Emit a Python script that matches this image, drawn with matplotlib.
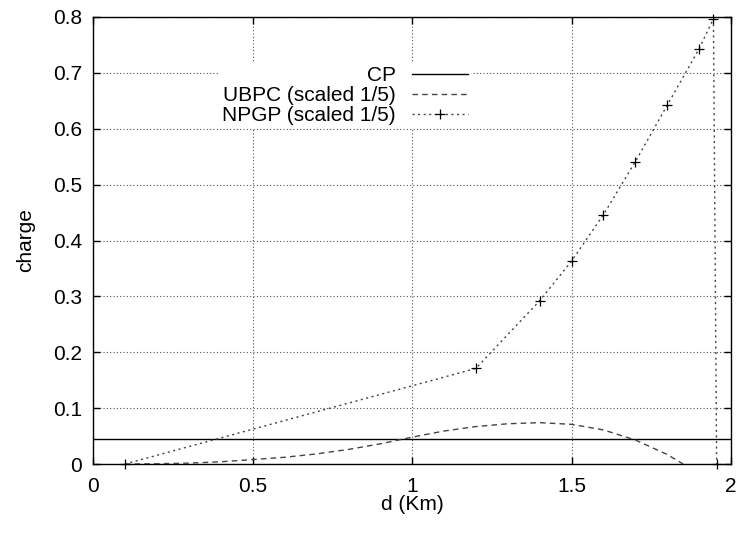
"""
Charge vs. distance: CP constant, UBPC and NPGP (both scaled 1/5).
Gnuplot-style line chart with dotted grid and right-aligned legend.
"""

import matplotlib
matplotlib.use("Agg")
import matplotlib.pyplot as plt

# CP: constant level
CP_LEVEL = 0.045
CP_X = [0.0, 2.0]

# UBPC (scaled 1/5)
UBPC_X = [0.1, 0.2, 0.3, 0.4, 0.5, 0.6, 0.7, 0.8, 0.9, 1.0,
          1.1, 1.2, 1.3, 1.4, 1.5, 1.6, 1.7, 1.8, 1.85]
UBPC_Y = [0.0, 0.0005, 0.0015, 0.004, 0.0079, 0.012, 0.018, 0.026, 0.036, 0.048,
          0.059, 0.067, 0.072, 0.074, 0.071, 0.061, 0.043, 0.017, 0.0]

# NPGP (scaled 1/5)
NPGP_X = [0.1, 1.2, 1.4, 1.5, 1.6, 1.7, 1.8, 1.9, 1.945, 1.955]
NPGP_Y = [0.0, 0.171, 0.292, 0.363, 0.446, 0.541, 0.642, 0.743, 0.797, 0.0]

X_TICKS = [0, 0.5, 1, 1.5, 2]
X_TICKLABELS = ['0', '0.5', '1', '1.5', '2']
Y_TICKS = [0, 0.1, 0.2, 0.3, 0.4, 0.5, 0.6, 0.7, 0.8]
Y_TICKLABELS = ['0', '0.1', '0.2', '0.3', '0.4', '0.5', '0.6', '0.7', '0.8']

FS = 15

plt.rcParams['font.family'] = ['Liberation Sans', 'DejaVu Sans']

fig = plt.figure(figsize=(7.37, 5.33), dpi=100)
ax = fig.add_axes([93 / 737, 69 / 533, 638 / 737, 447 / 533])

ax.plot(CP_X, [CP_LEVEL] * len(CP_X), color='black', linewidth=1.0,
        label='CP', zorder=3)
ax.plot(UBPC_X, UBPC_Y, color='#444444', linewidth=1.0,
        linestyle=(0, (4, 3)), label='UBPC (scaled 1/5)', zorder=3)
ax.plot(NPGP_X, NPGP_Y, color='#444444', linewidth=1.0,
        linestyle=(0, (1.5, 2.5)), marker='+', markersize=7,
        markeredgecolor='black', markeredgewidth=0.9,
        label='NPGP (scaled 1/5)', zorder=3, clip_on=False)

ax.set_xlim(0, 2)
ax.set_ylim(0, 0.8)
ax.set_xticks(X_TICKS)
ax.set_xticklabels(X_TICKLABELS)
ax.set_yticks(Y_TICKS)
ax.set_yticklabels(Y_TICKLABELS)

ax.tick_params(direction='in', length=5, width=1, top=True, right=True,
               labelsize=FS)
ax.tick_params(axis='x', pad=9)
ax.tick_params(axis='y', pad=8)

ax.grid(True, color='#555555', linestyle=(0, (1, 2)), linewidth=0.8)
for s in ax.spines.values():
    s.set_linewidth(1.0)

ax.set_xlabel('d (Km)', fontsize=FS, labelpad=0)
ax.set_ylabel('charge', fontsize=FS, labelpad=13)

leg = ax.legend(loc='upper right', markerfirst=False, frameon=True,
                fontsize=FS, handlelength=2.7, handletextpad=0.75,
                labelspacing=0.05, borderpad=0.15, borderaxespad=0,
                bbox_to_anchor=(471 / 737, 1 - 63 / 533),
                bbox_transform=fig.transFigure, fancybox=False)
leg.get_frame().set_facecolor('white')
leg.get_frame().set_edgecolor('none')
leg.get_frame().set_alpha(1.0)

fig.savefig('out.png', dpi=100)
